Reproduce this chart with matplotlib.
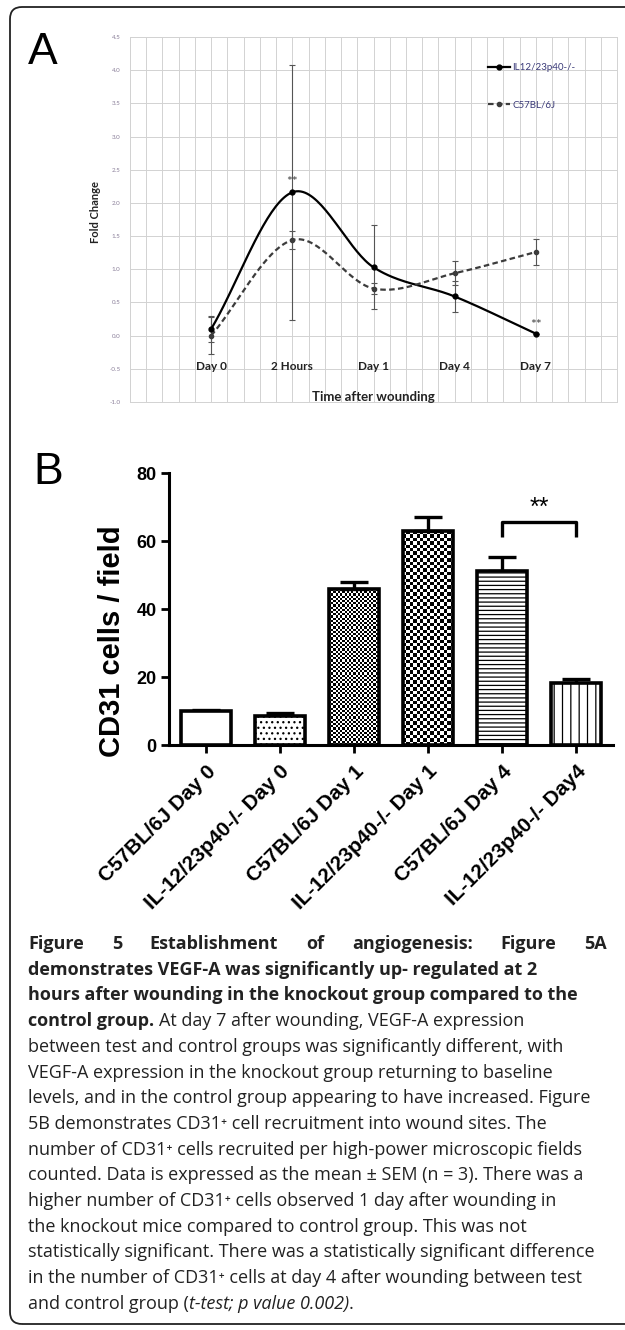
import numpy as np
import matplotlib
matplotlib.use("Agg")
import matplotlib.pyplot as plt
from matplotlib.lines import Line2D
from matplotlib.patches import FancyBboxPatch

# ---------------- data ----------------
TIMES = ["Day 0", "2 Hours", "Day 1", "Day 4", "Day 7"]
KO_NAME = "IL12/23p40-/-"
WT_NAME = "C57BL/6J"
KO_FOLD = [0.10, 2.16, 1.03, 0.59, 0.03]
KO_ERR = [0.20, 1.92, 0.63, 0.24, 0.0]
WT_FOLD = [0.00, 1.44, 0.71, 0.94, 1.26]
WT_ERR = [0.28, 0.13, 0.08, 0.18, 0.20]
STARS_A = ["2 Hours", "Day 7"]

GROUPS = ["C57BL/6J Day 0", "IL-12/23p40-/- Day 0", "C57BL/6J Day 1",
          "IL-12/23p40-/- Day 1", "C57BL/6J Day 4", "IL-12/23p40-/- Day4"]
CD31_MEAN = [10.0, 8.5, 45.8, 62.9, 51.2, 18.2]
CD31_SEM = [0.2, 0.9, 2.1, 4.3, 4.2, 1.1]
STARS_B = (4, 5)

CAPTION = [
    [("Figure 5 Establishment of angiogenesis: Figure 5A", "bold", "normal")],
    [("demonstrates VEGF-A was significantly up- regulated at 2", "bold", "normal")],
    [("hours after wounding in the knockout group compared to the", "bold", "normal")],
    [("control group.", "bold", "normal"), ("At day 7 after wounding, VEGF-A expression", "normal", "normal")],
    [("between test and control groups was significantly different, with", "normal", "normal")],
    [("VEGF-A expression in the knockout group returning to baseline", "normal", "normal")],
    [("levels, and in the control group appearing to have increased. Figure", "normal", "normal")],
    [("5B demonstrates CD31\u207a cell recruitment into wound sites. The", "normal", "normal")],
    [("number of CD31\u207a cells recruited per high-power microscopic fields", "normal", "normal")],
    [("counted. Data is expressed as the mean \u00b1 SEM (n = 3). There was a", "normal", "normal")],
    [("higher number of CD31\u207a cells observed 1 day after wounding in", "normal", "normal")],
    [("the knockout mice compared to control group. This was not", "normal", "normal")],
    [("statistically significant. There was a statistically significant difference", "normal", "normal")],
    [("in the number of CD31\u207a cells at day 4 after wounding between test", "normal", "normal")],
    [("and control group (", "normal", "normal"), ("t-test; p value 0.002)", "normal", "italic"),
     (".", "normal", "normal")],
]

W, H = 625, 1330
ARIAL = ["Liberation Sans", "DejaVu Sans"]
CALIBRI = ["Lato", "DejaVu Sans"]
BODY = ["Open Sans", "DejaVu Sans"]


def fx(x):
    return x / W


def fy(y):
    return 1 - y / H


def smooth(xs, ys, n=40):
    # Catmull-Rom curve through the points, like Excel's "smoothed line"
    xs = np.asarray(xs, float)
    ys = np.asarray(ys, float)
    px = np.concatenate([[2 * xs[0] - xs[1]], xs, [2 * xs[-1] - xs[-2]]])
    py = np.concatenate([[2 * ys[0] - ys[1]], ys, [2 * ys[-1] - ys[-2]]])
    t = np.linspace(0, 1, n)
    h00 = 2 * t**3 - 3 * t**2 + 1
    h10 = t**3 - 2 * t**2 + t
    h01 = -2 * t**3 + 3 * t**2
    h11 = t**3 - t**2
    ox, oy = [], []
    for i in range(1, len(px) - 2):
        for arr, out in ((px, ox), (py, oy)):
            m1 = (arr[i + 1] - arr[i - 1]) / 2
            m2 = (arr[i + 2] - arr[i]) / 2
            out.append(h00 * arr[i] + h10 * m1 + h01 * arr[i + 1] + h11 * m2)
    return np.concatenate(ox), np.concatenate(oy)


fig = plt.figure(figsize=(W / 100, H / 100), dpi=100)
plt.rcParams["hatch.linewidth"] = 0.9

# outer rounded frame
frame = FancyBboxPatch((0.10, 0.06), 6.40, 13.17, boxstyle="round,pad=0,rounding_size=0.12",
                       transform=fig.dpi_scale_trans, fill=False, lw=1.3, ec="#222222")
fig.add_artist(frame)

# ---------------- panel A ----------------
axA = fig.add_axes([fx(130), fy(402), 487 / W, 365 / H])
xpos = np.arange(1, len(TIMES) + 1)
axA.set_xlim(0, 6)
axA.set_ylim(-1, 4.5)
axA.set_xticks(np.arange(0, 6.001, 0.2))
axA.set_xticklabels([])
ytk = np.arange(-1, 4.51, 0.5)
axA.set_yticks(ytk)
axA.set_yticklabels([f"{v:.1f}" for v in ytk], family=CALIBRI)
axA.tick_params(axis="x", length=0)
axA.tick_params(axis="y", length=0, pad=7, labelsize=4.5, labelcolor="#8a7f99")
axA.grid(True, color="#d2d2d2", lw=0.7)
axA.set_axisbelow(True)
for s in axA.spines.values():
    s.set_color("#d2d2d2")
    s.set_linewidth(0.7)

axA.errorbar(xpos, KO_FOLD, yerr=KO_ERR, fmt="none", ecolor="#555555", elinewidth=0.8,
             capsize=2, capthick=0.8, zorder=3)
axA.errorbar(xpos, WT_FOLD, yerr=WT_ERR, fmt="none", ecolor="#555555", elinewidth=0.8,
             capsize=2, capthick=0.8, zorder=3)
sx, sy = smooth(xpos, KO_FOLD)
axA.plot(sx, sy, color="black", lw=1.6, zorder=4)
axA.plot(xpos, KO_FOLD, "o", ms=3.5, color="black", zorder=5)
sx, sy = smooth(xpos, WT_FOLD)
axA.plot(sx, sy, color="#3c3c3c", lw=1.6, ls=(0, (2.5, 1.5)), zorder=4)
axA.plot(xpos, WT_FOLD, "o", ms=3, color="#3c3c3c", zorder=5)

for x, lab in zip(xpos, TIMES):
    axA.text(x, -0.47, lab, ha="center", va="center", fontsize=8.5, fontweight="bold",
             family=CALIBRI, color="#222222")
for lab in STARS_A:
    i = TIMES.index(lab)
    top = KO_FOLD[i] + (0.1 if KO_ERR[i] > 0.5 else 0.07)
    axA.text(xpos[i], top, "**", ha="center", va="baseline", fontsize=10,
             family=CALIBRI, color="#444444")
axA.text(3, -0.93, "Time after wounding", ha="center", va="center", fontsize=9.5,
         fontweight="bold", family=CALIBRI, color="#222222")
fig.text(fx(96), fy(212), "Fold Change", rotation=90, ha="center", va="center",
         fontsize=8, fontweight="bold", family=CALIBRI, color="#222222")

handles = [Line2D([], [], color="black", lw=1.6, marker="o", ms=3.5),
           Line2D([], [], color="#3c3c3c", lw=1.6, ls=(0, (2.5, 1.5)), marker="o", ms=3)]
axA.legend(handles, [KO_NAME, WT_NAME], loc="upper left", bbox_to_anchor=(0.735, 0.928),
           frameon=False, borderpad=0, borderaxespad=0, handlelength=2.3, handletextpad=0.2,
           labelspacing=2.9, prop={"family": CALIBRI, "size": 7}, labelcolor="#3a3a78")

fig.text(fx(28), fy(52), "A", fontsize=32, family=ARIAL, va="center", ha="left")

# ---------------- panel B ----------------
axB = fig.add_axes([fx(169), fy(745), 444 / W, 272 / H])
xb = np.arange(len(GROUPS))
faces = ["white", "white", "none", "none", "white", "white"]
hatches = ["", "...", "", "", "----", "||"]
bars = axB.bar(xb, CD31_MEAN, width=0.68, color=faces, edgecolor="black", linewidth=2.6, zorder=3)
for b, h in zip(bars, hatches):
    b.set_hatch(h)
axB.set_xlim(-0.5, 5.5)
axB.set_ylim(0, 80)

# checkerboard fills for the two Day 1 bars
ppx = 444 / 6.0
ppy = 272 / 80.0
for i, cell in ((2, 2.2), (3, 3.4)):
    b = bars[i]
    x0, w, h = b.get_x(), b.get_width(), b.get_height()
    nc = max(1, int(round(w * ppx / cell)))
    nr = max(1, int(round(h * ppy / cell)))
    board = np.indices((nr, nc)).sum(axis=0) % 2
    axB.imshow(board, extent=(x0, x0 + w, 0, h), cmap="gray_r", vmin=0, vmax=1,
               interpolation="nearest", aspect="auto", zorder=2)
axB.set_xlim(-0.5, 5.5)
axB.set_ylim(0, 80)

axB.errorbar(xb, CD31_MEAN, yerr=[np.zeros(len(xb)), CD31_SEM], fmt="none", ecolor="black",
             elinewidth=2.4, capsize=10, capthick=2.4, zorder=2.5)

i0, i1 = STARS_B
top = max(CD31_MEAN[i0] + CD31_SEM[i0], CD31_MEAN[i1] + CD31_SEM[i1]) + 10.2
axB.plot([xb[i0], xb[i0], xb[i1], xb[i1]], [top - 4.4, top, top, top - 4.4],
         color="black", lw=2.4, solid_capstyle="butt", clip_on=False)
axB.text((xb[i0] + xb[i1]) / 2, top + 2.2, "**", ha="center", va="baseline", fontsize=18,
         family=ARIAL)

for s in ("top", "right"):
    axB.spines[s].set_visible(False)
for s in ("left", "bottom"):
    axB.spines[s].set_linewidth(2.2)
axB.set_yticks([0, 20, 40, 60, 80])
axB.set_yticklabels(["0", "20", "40", "60", "80"], fontweight="bold", fontsize=13, family=ARIAL)
axB.set_xticks(xb)
axB.set_xticklabels(GROUPS, rotation=45, ha="right", rotation_mode="anchor", fontsize=15,
                    fontweight="bold", family=ARIAL)
axB.tick_params(direction="out", length=6, width=2, pad=3)
axB.tick_params(axis="x", pad=6)
fig.text(fx(112), fy(641), "CD31 cells / field", rotation=90, ha="center", va="center",
         fontsize=21, fontweight="bold", family=ARIAL)

fig.text(fx(33), fy(472), "B", fontsize=32, family=ARIAL, va="center", ha="left")

# ---------------- caption ----------------
renderer = fig.canvas.get_renderer()
left, right = 28, 607
base0, step = 949, 25.7
fsize = 13


def put(x, y, s, weight, style):
    return fig.text(fx(x), fy(y), s, fontsize=fsize, fontweight=weight, fontstyle=style,
                    family=BODY, color="#222222", va="baseline", ha="left")


sp = put(0, 0, "a a", "normal", "normal")
sp2 = put(0, 0, "aa", "normal", "normal")
space_w = sp.get_window_extent(renderer).width - sp2.get_window_extent(renderer).width
sp.remove()
sp2.remove()

for li, runs in enumerate(CAPTION):
    y = base0 + step * li
    if li == 0:
        s, weight, style = runs[0]
        words = [put(0, y, w, weight, style) for w in s.split()]
        widths = [t.get_window_extent(renderer).width for t in words]
        gap = (right - left - sum(widths)) / (len(words) - 1)
        x = left
        for t, w in zip(words, widths):
            t.set_x(fx(x))
            x += w + gap
        continue
    x = left
    for k, (s, weight, style) in enumerate(runs):
        t = put(x, y, s, weight, style)
        x += t.get_window_extent(renderer).width
        if li == 3 and k == 0:
            x += space_w

fig.savefig("out.png", dpi=100, facecolor="white")
